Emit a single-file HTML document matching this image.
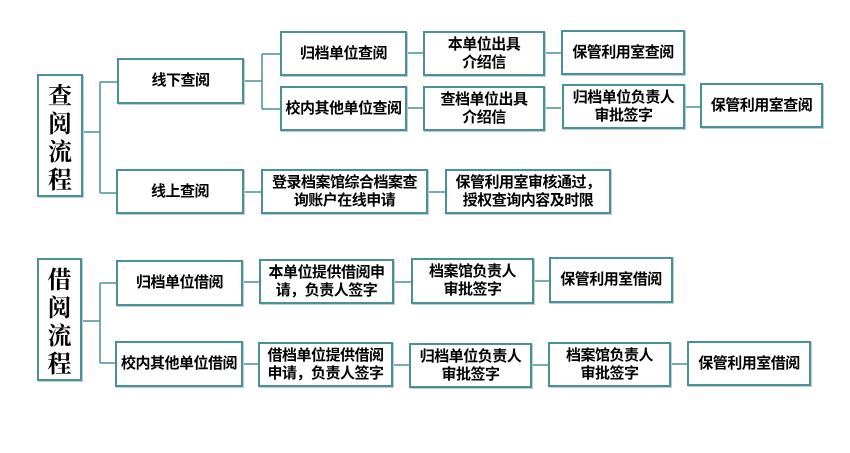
<!DOCTYPE html>
<html><head><meta charset="utf-8"><style>
body{margin:0;width:850px;height:453px;background:#fff;position:relative;overflow:hidden;font-family:"Liberation Sans","Noto Sans CJK SC",sans-serif;}
.b{position:absolute;box-sizing:border-box;border:2px solid #4a9197;background:#fff;display:flex;align-items:center;justify-content:center;text-align:center;font-size:15px;font-weight:bold;line-height:18px;color:#000;box-shadow:1px 1px 0 #b8d0d3;letter-spacing:-0.5px;}
.v{font-size:24px;line-height:28px;font-weight:bold;font-family:"Noto Serif CJK SC","Noto Sans CJK SC",serif;letter-spacing:0;}
svg{position:absolute;left:0;top:0;}
</style></head><body>
<svg width="850" height="453"><g stroke="#4a9197" stroke-width="1.5" fill="none">
<path d="M83 132H100M100 82V193M100 82H117M100 193H116"/>
<path d="M244 81H262M262 54V109M262 54H280M262 109H280"/>
<path d="M407 53H423M545 53H561M407 108H423M545 108H561M685 107H700"/>
<path d="M244 192H261M428 192H445"/>
<path d="M82 321H100M100 283V363M100 283H116M100 363H115"/>
<path d="M243 282H259M394 282H411M534 281H549"/>
<path d="M243 364H258M393 365H409M532 365H548M671 364H687"/>
</g></svg>
<div class="b v" style="left:37px;top:74px;width:46px;height:123px">查<br>阅<br>流<br>程</div>
<div class="b" style="left:117px;top:58px;width:127px;height:46px">线下查阅</div>
<div class="b" style="left:280px;top:31px;width:127px;height:45px">归档单位查阅</div>
<div class="b" style="left:280px;top:86px;width:127px;height:45px">校内其他单位查阅</div>
<div class="b" style="left:116px;top:169px;width:128px;height:45px">线上查阅</div>
<div class="b" style="left:261px;top:169px;width:167px;height:45px">登录档案馆综合档案查<br>询账户在线申请</div>
<div class="b" style="left:423px;top:31px;width:122px;height:45px">本单位出具<br>介绍信</div>
<div class="b" style="left:561px;top:30px;width:124px;height:45px">保管利用室查阅</div>
<div class="b" style="left:423px;top:86px;width:122px;height:45px">查档单位出具<br>介绍信</div>
<div class="b" style="left:562px;top:84px;width:123px;height:45px">归档单位负责人<br>审批签字</div>
<div class="b" style="left:700px;top:83px;width:123px;height:45px">保管利用室查阅</div>
<div class="b" style="left:445px;top:169px;width:166px;height:45px">保管利用室审核通过，<br>授权查询内容及时限</div>

<div class="b v" style="left:37px;top:258px;width:45px;height:123px">借<br>阅<br>流<br>程</div>
<div class="b" style="left:116px;top:260px;width:127px;height:46px">归档单位借阅</div>
<div class="b" style="left:259px;top:259px;width:135px;height:45px">本单位提供借阅申<br>请，负责人签字</div>
<div class="b" style="left:411px;top:258px;width:123px;height:46px">档案馆负责人<br>审批签字</div>
<div class="b" style="left:549px;top:257px;width:124px;height:46px">保管利用室借阅</div>
<div class="b" style="left:115px;top:341px;width:128px;height:46px">校内其他单位借阅</div>
<div class="b" style="left:258px;top:342px;width:135px;height:45px">借档单位提供借阅<br>申请，负责人签字</div>
<div class="b" style="left:409px;top:343px;width:123px;height:45px">归档单位负责人<br>审批签字</div>
<div class="b" style="left:548px;top:342px;width:123px;height:45px">档案馆负责人<br>审批签字</div>
<div class="b" style="left:687px;top:341px;width:124px;height:45px">保管利用室借阅</div>
</body></html>
